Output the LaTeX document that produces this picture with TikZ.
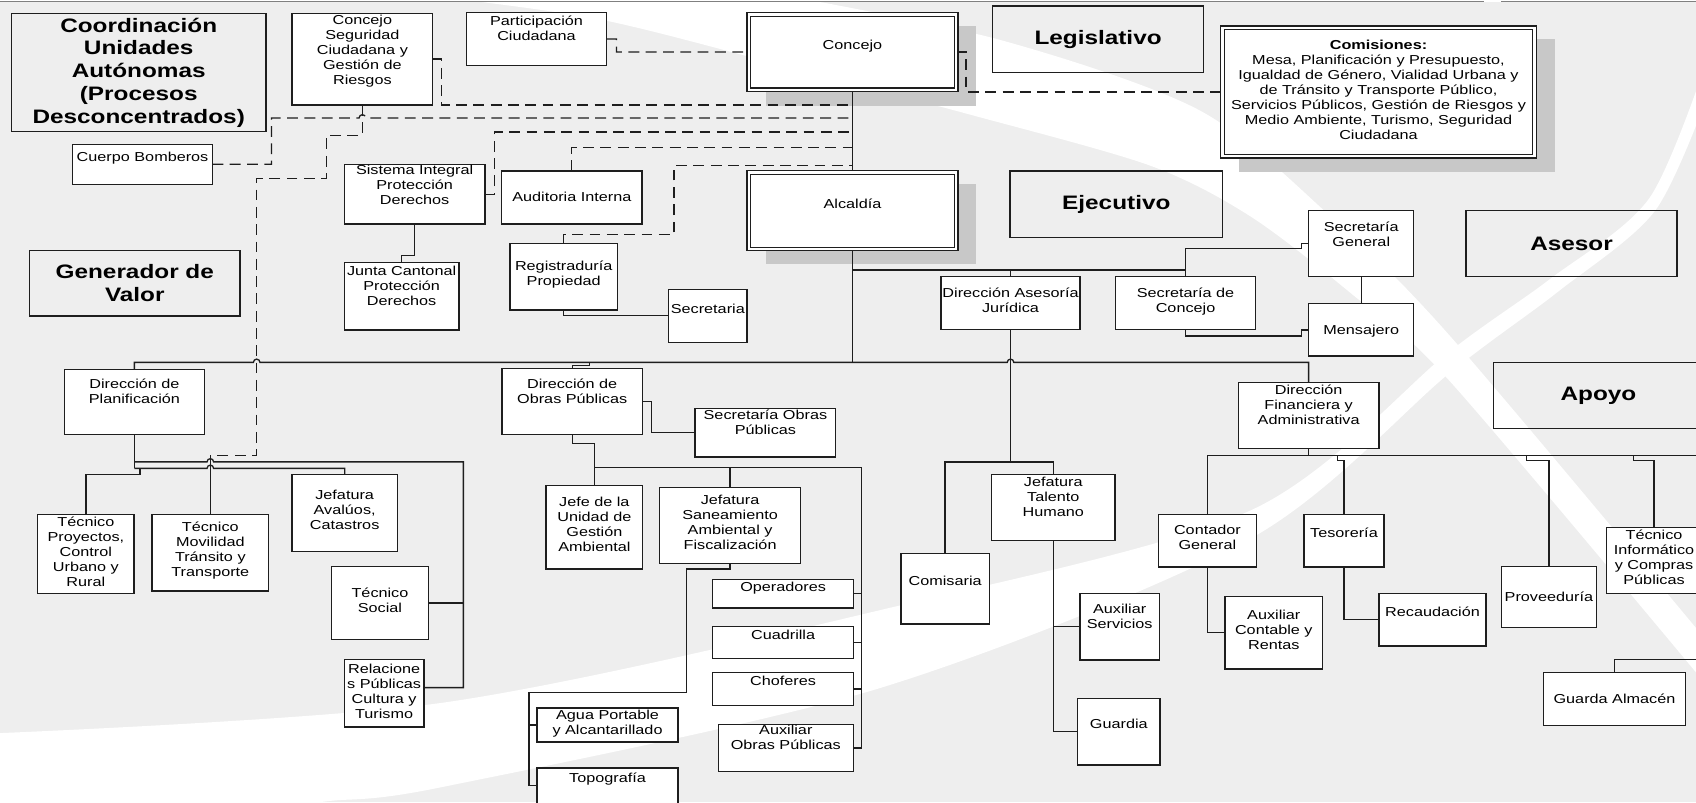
\documentclass[tikz,border=0pt]{standalone}
\usepackage{fontspec}
\setmainfont{Liberation Sans}[FakeStretch=1.25]
\definecolor{bg}{HTML}{EEEEEE}
\definecolor{shd}{HTML}{C8C8C8}
\definecolor{ln}{HTML}{1E1E1E}
\pgfdeclarelayer{bglayer}
\pgfdeclarelayer{lines}
\pgfsetlayers{bglayer,lines,main}
\tikzset{
 box/.style={draw=ln, fill=white, line width=1.2pt, inner sep=0pt, outer sep=0pt},
 dbox/.style={draw=ln, fill=white, line width=1.1pt, double=white, double distance=2.2pt, inner sep=0pt, outer sep=0pt},
 catbox/.style={draw=ln, line width=1.2pt, inner sep=0pt, outer sep=0pt, align=center, font=\bfseries\fontsize{18}{21}\selectfont},
 txt/.style={anchor=north, align=center, inner sep=0pt, font=\fontsize{12}{13.9}\selectfont, execute at begin node={\rule{0pt}{11.5pt}}},
 conn/.style={draw=ln, line width=1.2pt},
 dsh/.style={draw=ln, line width=1.2pt, dash pattern=on 10pt off 6pt},
}
\newcommand\mkbox[7]{%
  \node[box, minimum width={(#4-#2)*1pt}, minimum height={(#5-#3)*1pt}] (#1) at ({(#2+#4)/2},{(#3+#5)/2}) {};
  \node[txt] (#1-t) at ({(#2+#4)/2},{#6-7.2}) {#7};}
\newcommand\mkdbox[7]{%
  \node[dbox, minimum width={(#4-#2-3.3)*1pt}, minimum height={(#5-#3-3.3)*1pt}] (#1) at ({(#2+#4)/2},{(#3+#5)/2}) {};
  \node[txt] (#1-t) at ({(#2+#4)/2},{#6-7.2}) {#7};}
\newcommand\mkcat[6]{%
  \node[catbox, minimum width={(#4-#2)*1pt}, minimum height={(#5-#3)*1pt}] (#1) at ({(#2+#4)/2},{(#3+#5)/2}) {#6};}
\begin{document}
\begin{tikzpicture}[x=1pt,y=-1pt]
\useasboundingbox (0,0) rectangle (1568,741.5);
\begin{pgfonlayer}{bglayer}
\fill[white] (0,0) rectangle (1568,741.5);
\fill[bg] (0,2) rectangle (1568,741.5);
\fill[white] plot[smooth] coordinates {(-5,678) (407,650) (814,564) (1156,472) (1340,325) (1433,258) (1525,183) (1580,50)} -- plot[smooth] coordinates {(1580,85) (1530,195) (1440,270) (1340,345) (1156,498) (814,636) (407,728) (297,741.5) (200,760)} -- (-5,760) -- cycle;
\fill[white] plot[smooth] coordinates {(388,-5) (555,18) (740,65) (897,106) (1063,153) (1156,200) (1250,272) (1340,352) (1580,636)} -- plot[smooth] coordinates {(1580,595) (1340,310) (1230,200) (1109,102) (925,37) (721,-5)} -- cycle;
\draw[gray, line width=1.2pt] (0,1.2) -- (1372,1.2) (1388,1.2) -- (1568,1.2);
\fill[shd] (708,24) rectangle (902,98);
\fill[shd] (708,170) rectangle (902,244);
\fill[shd] (1145.4,36.4) rectangle (1437.2,158.7);
\end{pgfonlayer}
% category boxes
\mkcat{coord}{10.6}{12.3}{245.9}{121.7}{Coordinación\\Unidades\\Autónomas\\(Procesos\\Desconcentrados)}
\mkcat{gener}{27.3}{231.7}{221.9}{292.1}{Generador de\\Valor}
\mkcat{legis}{917.7}{5.5}{1112.7}{66.9}{Legislativo}
\mkcat{ejec}{933.8}{158}{1130.3}{219.4}{Ejecutivo}
\mkcat{asesor}{1355.4}{194.8}{1550.4}{255.8}{Asesor}
\mkcat{apoyo}{1380.6}{335}{1575}{396}{Apoyo}
% boxes
\mkbox{concejoseg}{270}{12.3}{400}{97}{21}{Concejo\\Seguridad\\Ciudadana y\\Gestión de\\Riesgos}
\mkbox{particip}{431}{11.7}{561}{60.4}{22}{Participación\\Ciudadana}
\mkdbox{concejo}{690.6}{11.7}{885.7}{84.7}{41.6}{Concejo}
\mkdbox{comisiones}{1128.5}{24}{1420.4}{146}{44}{\textbf{Comisiones:}\\Mesa, Planificación y Presupuesto,\\Igualdad de Género, Vialidad Urbana y\\de Tránsito y Transporte Público,\\Servicios Públicos, Gestión de Riesgos y\\Medio Ambiente, Turismo, Seguridad\\Ciudadana}
\mkbox{bomberos}{67.2}{133.4}{196.4}{170.4}{145}{Cuerpo Bomberos}
\mkbox{sistint}{318.3}{152}{448.4}{207.1}{159.5}{Sistema Integral\\Protección\\Derechos}
\mkbox{auditoria}{463.8}{158}{593.5}{207}{181.8}{Auditoria Interna}
\mkdbox{alcaldia}{690.6}{158}{885.7}{231.8}{188}{Alcaldía}
\mkbox{secgen}{1210}{194.8}{1307}{255.8}{212}{Secretaría\\General}
\mkbox{junta}{318.3}{242.5}{424.3}{305}{253.4}{Junta Cantonal\\Protección\\Derechos}
\mkbox{registr}{471.5}{225}{570.8}{286.6}{248.4}{Registraduría\\Propiedad}
\mkbox{secretaria}{618.2}{267.5}{690.6}{316.8}{285.4}{Secretaria}
\mkbox{dirjur}{870}{255.8}{998.5}{304.5}{273.3}{Dirección Asesoría\\Jurídica}
\mkbox{secconc}{1031.5}{255.8}{1160.6}{304.5}{273.3}{Secretaría de\\Concejo}
\mkbox{mensajero}{1210}{280.4}{1307}{329}{304.5}{Mensajero}
\mkbox{dirplan}{59.5}{341.5}{189}{402}{357.5}{Dirección de\\Planificación}
\mkbox{dirobras}{464}{341}{594}{402}{357.5}{Dirección de\\Obras Públicas}
\mkbox{secobras}{642.6}{377.4}{772.7}{422.4}{386}{Secretaría Obras\\Públicas}
\mkbox{dirfin}{1144.8}{353.5}{1274.9}{414.5}{362.7}{Dirección\\Financiera y\\Administrativa}
\mkbox{tecproy}{34.8}{475.5}{124}{548.5}{484.5}{Técnico\\Proyectos,\\Control\\Urbano y\\Rural}
\mkbox{tecmov}{140.5}{475.5}{248.4}{546.4}{489.4}{Técnico\\Movilidad\\Tránsito y\\Transporte}
\mkbox{jefaval}{270}{438.5}{367.3}{509.7}{460}{Jefatura\\Avalúos,\\Catastros}
\mkbox{tecsocial}{306.6}{524}{396}{591}{550.7}{Técnico\\Social}
\mkbox{relac}{318.3}{609.5}{392}{672}{621}{Relacione\\s Públicas\\Cultura y\\Turismo}
\mkbox{jefe}{504.8}{449}{594.2}{526}{466.3}{Jefe de la\\Unidad de\\Gestión\\Ambiental}
\mkbox{jefsan}{610}{451}{740}{521}{464.7}{Jefatura\\Saneamiento\\Ambiental y\\Fiscalización}
\mkbox{operad}{659}{536}{789}{562}{542.4}{Operadores}
\mkbox{cuadr}{659}{579}{789}{608.5}{586.4}{Cuadrilla}
\mkbox{chofer}{659}{622}{789}{652}{629.3}{Choferes}
\mkbox{auxobras}{664}{670}{789}{713}{677.3}{Auxiliar\\Obras Públicas}
\mkbox{agua}{496.6}{654.5}{626.8}{686}{663.5}{Agua Portable\\y Alcantarillado}
\mkbox{topo}{496.6}{710}{626.8}{750}{719}{Topografía}
\mkbox{comisaria}{833}{511.5}{914.6}{577}{536.8}{Comisaria}
\mkbox{jeftal}{916.8}{438.5}{1030.8}{499.5}{447.8}{Jefatura\\Talento\\Humano}
\mkbox{auxserv}{998.5}{548.5}{1071.8}{610.2}{565.5}{Auxiliar\\Servicios}
\mkbox{guardia}{996.3}{646}{1072.4}{707.2}{668.7}{Guardia}
\mkbox{contador}{1071}{475.5}{1161.5}{524.2}{492}{Contador\\General}
\mkbox{tesor}{1205.5}{475.5}{1279.5}{524.2}{492.5}{Tesorería}
\mkbox{auxcont}{1132.5}{551.6}{1222.8}{618.5}{570.7}{Auxiliar\\Contable y\\Rentas}
\mkbox{recaud}{1275}{548.5}{1373.8}{597.2}{565.5}{Recaudación}
\mkbox{proveed}{1388}{524}{1476}{580}{551.6}{Proveeduría}
\mkbox{tecinfo}{1485.4}{488}{1573}{548.5}{497}{Técnico\\Informático\\y Compras\\Públicas}
\mkbox{guarda}{1426.8}{621.5}{1558.4}{671}{646.2}{Guarda Almacén}
\coordinate (obrv) at (796.6,432);
\coordinate (sanv) at (489,640);
\coordinate (finv) at (1580,421.3);
\coordinate (guav) at (1580,609.5);
\begin{pgfonlayer}{lines}
% solid
\draw[conn] (concejo.south) -- (alcaldia.north);
\draw[conn] (alcaldia.south) -- (alcaldia.south |- 0,335);
\draw[conn] (dirplan.north) -- (dirplan.north |- 0,335) -- (234.3,335) arc[start angle=180,end angle=0,radius=3pt] -- (931.25,335) arc[start angle=180,end angle=0,radius=3pt] -- (dirfin.north |- 0,335) -- (dirfin.north);
\draw[conn] (dirobras.north) -- ++(0,-3) -- ++(16,0) -- ++(0,-3);
\draw[conn] (alcaldia.south |- 0,249.6) -- (secconc.north |- 0,249.6);
\draw[conn] (dirjur.north) -- (dirjur.north |- 0,249.6);
\draw[conn] (secconc.north) -- (secconc.north |- 0,229.6) -- (1203,229.6) -- (1203,225) -- (secgen.west |- 0,225);
\draw[conn] (secgen.south) -- (mensajero.north);
\draw[conn] (secconc.south) -- (secconc.south |- 0,310.6) -- (1203,310.6) -- (1203,305) -- (mensajero.west |- 0,305);
\draw[conn] (dirjur.south) -- (dirjur.south |- 0,427);
\draw[conn] (comisaria.north) -- (comisaria.north |- 0,427) -- (jeftal.north |- 0,427) -- (jeftal.north);
\draw[conn] (jeftal.south) -- (jeftal.south |- 0,676.5) -- (guardia.west |- 0,676.5);
\draw[conn] (jeftal.south |- 0,579) -- (auxserv.west |- 0,579);
\draw[conn] (sistint.south) -- (sistint.south |- 0,236) -- (junta.north |- 0,236) -- (junta.north);
\draw[conn] (registr.south) -- (registr.south |- 0,292) -- (secretaria.west |- 0,292);
\draw[conn] (dirobras.east |- 0,371) -- (602,371) -- (602,400) -- (secobras.west |- 0,400);
\draw[conn] (dirobras.south) -- (dirobras.south |- 0,410) -- (jefe.north |- 0,410) -- (jefe.north);
\draw[conn] (jefe.north |- obrv) -- (obrv) -- (obrv |- auxobras.east) -- (auxobras.east);
\draw[conn] (jefsan.north |- obrv) -- (jefsan.north);
\draw[conn] (obrv |- operad.east) -- (operad.east);
\draw[conn] (obrv |- cuadr.east) -- (cuadr.east);
\draw[conn] (obrv |- chofer.east) -- (chofer.east);
\draw[conn] (jefsan.south) -- (jefsan.south |- 0,526) -- (635,526) -- (635,640) -- (sanv) -- (sanv |- 0,726) -- (topo.west |- 0,726);
\draw[conn] (sanv |- agua.west) -- (agua.west);
\draw[conn] (dirplan.south) -- (dirplan.south |- 0,433);
\draw[conn] (dirplan.south |- 0,427) -- (191.45,427) arc[start angle=180,end angle=0,radius=3pt] -- (428.4,427) -- (428.4,635.7) -- (relac.east |- 0,635.7);
\draw[conn] (428.4,557.5) -- (tecsocial.east);
\draw[conn] (dirplan.south |- 0,433) -- (191.45,433) arc[start angle=180,end angle=0,radius=3pt] -- (jefaval.north |- 0,433) -- (jefaval.north);
\draw[conn] (129.5,433) -- (129.5,438.5) -- (tecproy.north |- 0,438.5) -- (tecproy.north);
\draw[conn] (tecmov.north |- 0,421) -- (tecmov.north);
\draw[conn] (dirfin.south) -- (dirfin.south |- finv);
\draw[conn] (contador.north) -- (contador.north |- finv) -- (finv);
\draw[conn] (1236.4,421.3) -- (1236.4,426) -- (tesor.north |- 0,426) -- (tesor.north);
\draw[conn] (1411.4,421.3) -- (1411.4,426) -- (proveed.north |- 0,426) -- (proveed.north);
\draw[conn] (1510,421.3) -- (1510,426) -- (tecinfo.north |- 0,426) -- (tecinfo.north);
\draw[conn] (contador.south) -- (contador.south |- 0,585) -- (auxcont.west |- 0,585);
\draw[conn] (tesor.south) -- (tesor.south |- 0,573) -- (recaud.west |- 0,573);
\draw[conn] (guarda.north) -- (guarda.north |- guav) -- (guav);
% dashed
\draw[dsh] (concejoseg.east) -- ++(8,0) -- (408,97) -- (concejo.south |- 0,97);
\draw[dsh] (particip.east) -- ++(9,0) -- ++(0,12) -- (concejo.west |- 0,48);
\draw[dsh] (concejo.east |- 0,48) -- (893.2,48) -- (893.2,85) -- (comisiones.west);
\draw[dsh] (concejoseg.south) -- (concejoseg.south |- 0,125) -- (302,125) -- (302,165) -- (237.3,165) -- (237.3,421) -- (tecmov.north |- 0,421);
\draw[dsh] (bomberos.east) -- (251,151.9) -- (251,109) -- (332,109) arc[start angle=180,end angle=0,radius=3pt] -- (concejo.south |- 0,109);
\draw[dsh] (sistint.east) -- (457,179.55) -- (457,122) -- (concejo.south |- 0,122);
\draw[dsh] (auditoria.north) -- (auditoria.north |- 0,136.5) -- (concejo.south |- 0,136.5);
\draw[dsh] (registr.north) -- (registr.north |- 0,217) -- (623,217) -- (623,153) -- (concejo.south |- 0,153);
\end{pgfonlayer}
\end{tikzpicture}
\end{document}
